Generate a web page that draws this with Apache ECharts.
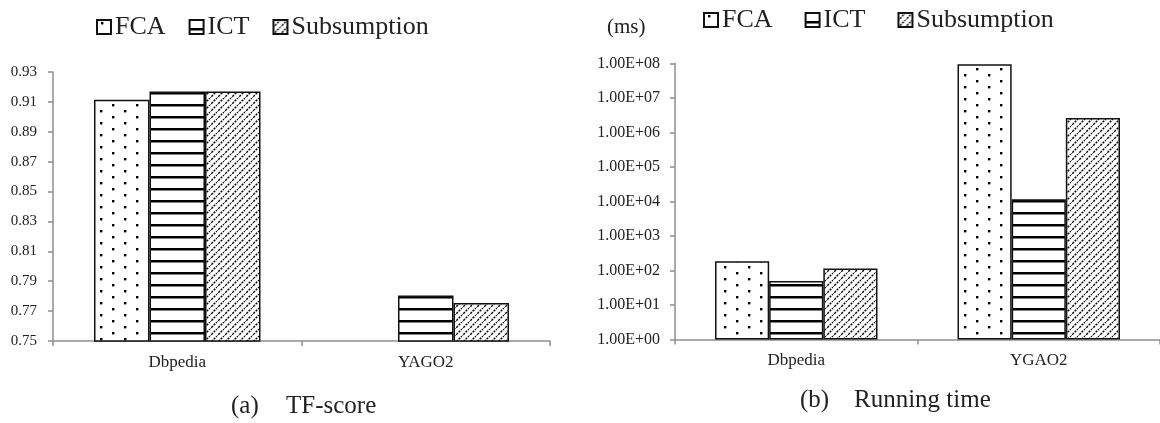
<!DOCTYPE html>
<html>
<head>
<meta charset="utf-8">
<script src="https://cdn.jsdelivr.net/npm/echarts@6/dist/echarts.min.js"></script>
<style>
html,body{margin:0;padding:0;background:#fff;}
#chart{width:1160px;height:423px;}
</style>
</head>
<body>
<div id="chart"></div>
<script>
// ---- data ----
const categoriesA = ['Dbpedia', 'YAGO2'];
const categoriesB = ['Dbpedia', 'YGAO2'];
const seriesNames = ['FCA', 'ICT', 'Subsumption'];
// TF-score (FCA on YAGO2 is below 0.75, not visible -> null)
const tfFCA = [0.9115, null];
const tfICT = [0.917, 0.7805];
const tfSub = [0.917, 0.7755];
const tfTicks = [0.75, 0.77, 0.79, 0.81, 0.83, 0.85, 0.87, 0.89, 0.91, 0.93];
// Running time (ms)
const rtFCA = [186, 95000000];
const rtICT = [50, 11700];
const rtSub = [114, 2650000];
const rtTickValues = [1, 10, 100, 1000, 10000, 100000, 1000000, 10000000, 100000000];
const rtTickLabels = ['1.00E+00', '1.00E+01', '1.00E+02', '1.00E+03', '1.00E+04', '1.00E+05', '1.00E+06', '1.00E+07', '1.00E+08'];

// ---- patterns ----
function mk(w, h, draw) {
  const c = document.createElement('canvas');
  c.width = w; c.height = h;
  const g = c.getContext('2d');
  g.fillStyle = '#fff'; g.fillRect(0, 0, w, h);
  draw(g);
  return { image: c, repeat: 'repeat' };
}
const dotPat = mk(24, 12, g => {
  g.fillStyle = '#000';
  g.fillRect(4, 2, 2.4, 2.4);
  g.fillRect(16, 8, 2.4, 2.4);
});
const stripePat = mk(8, 12, g => {
  g.fillStyle = '#000';
  g.fillRect(0, 8, 8, 2.5);
});
const diagPat = mk(7, 7, g => {
  g.strokeStyle = '#000';
  g.lineWidth = 1.4;
  g.setLineDash([2.2, 1.1]);
  g.beginPath();
  g.moveTo(-1, 8); g.lineTo(8, -1);
  g.moveTo(-4.5, 4.5); g.lineTo(4.5, -4.5);
  g.moveTo(2.5, 11.5); g.lineTo(11.5, 2.5);
  g.stroke();
});
const pats = [dotPat, stripePat, diagPat];

const FONT = '"Liberation Serif","Times New Roman",serif';
const TXT = '#222';
const AX = '#8f8f8f';

function barSeries(name, data, idx, pat) {
  return {
    type: 'bar', name: name, data: data,
    xAxisIndex: idx, yAxisIndex: idx,
    barGap: '0%', barCategoryGap: '33%',
    itemStyle: { color: pat, borderColor: '#111', borderWidth: 1.5 },
    emphasis: { disabled: true }
  };
}

const legendCommon = {
  data: seriesNames, icon: 'rect', itemWidth: 14, itemHeight: 14,
  textStyle: { fontFamily: FONT, fontSize: 26, color: TXT, padding: [0, 0, 0, -1] },
  selectedMode: false
};

const option = {
  backgroundColor: '#fff',
  animation: false,
  legend: [
    Object.assign({}, legendCommon, { left: 91, top: 9, itemGap: 23 }),
    Object.assign({}, legendCommon, { left: 698, top: 2, itemGap: 32 })
  ],
  grid: [
    { left: 53, top: 72, width: 497, height: 269 },
    { left: 675, top: 63.5, width: 486, height: 276 }
  ],
  xAxis: [
    {
      type: 'category', gridIndex: 0, data: categoriesA,
      axisLine: { show: true, lineStyle: { color: AX, width: 1.5 } },
      axisTick: { show: true, length: 5, lineStyle: { color: AX, width: 1.5 } },
      axisLabel: { fontFamily: FONT, fontSize: 17, color: TXT, margin: 13 }
    },
    {
      type: 'category', gridIndex: 1, data: categoriesB,
      axisLine: { show: true, lineStyle: { color: AX, width: 1.5 } },
      axisTick: { show: true, length: 5, lineStyle: { color: AX, width: 1.5 } },
      axisLabel: { fontFamily: FONT, fontSize: 17, color: TXT, margin: 13 }
    }
  ],
  yAxis: [
    {
      type: 'value', gridIndex: 0, min: 0.75, max: 0.93,
      axisLine: { show: true, lineStyle: { color: AX, width: 1.5 } },
      axisTick: { show: true, length: 5, customValues: tfTicks, lineStyle: { color: AX, width: 1.5 } },
      splitLine: { show: false },
      axisLabel: {
        customValues: tfTicks, fontFamily: FONT, fontSize: 15, color: TXT, margin: 16,
        formatter: v => Number(v).toFixed(2)
      }
    },
    {
      type: 'log', gridIndex: 1, logBase: 10, min: 1, max: 100000000,
      axisLine: { show: true, lineStyle: { color: AX, width: 1.5 } },
      axisTick: { show: true, length: 5, customValues: rtTickValues, lineStyle: { color: AX, width: 1.5 } },
      splitLine: { show: false },
      axisLabel: {
        customValues: rtTickValues, fontFamily: FONT, fontSize: 16, color: TXT, margin: 15,
        formatter: v => rtTickLabels[Math.round(Math.log10(v))]
      }
    }
  ],
  graphic: [
    { type: 'text', left: 231, top: 394, style: { text: '(a)', font: '25px ' + FONT, fill: TXT } },
    { type: 'text', left: 286, top: 394, style: { text: 'TF-score', font: '25px ' + FONT, fill: TXT } },
    { type: 'text', left: 800, top: 388, style: { text: '(b)', font: '25px ' + FONT, fill: TXT } },
    { type: 'text', left: 854, top: 388, style: { text: 'Running time', font: '25px ' + FONT, fill: TXT } },
    { type: 'text', left: 607, top: 17, style: { text: '(ms)', font: '21px ' + FONT, fill: TXT } }
  ],
  series: [
    barSeries('FCA', tfFCA, 0, pats[0]),
    barSeries('ICT', tfICT, 0, pats[1]),
    barSeries('Subsumption', tfSub, 0, pats[2]),
    barSeries('FCA', rtFCA, 1, pats[0]),
    barSeries('ICT', rtICT, 1, pats[1]),
    barSeries('Subsumption', rtSub, 1, pats[2])
  ]
};

const chart = echarts.init(document.getElementById('chart'), null, { renderer: 'canvas' });
chart.setOption(option);
</script>
</body>
</html>
